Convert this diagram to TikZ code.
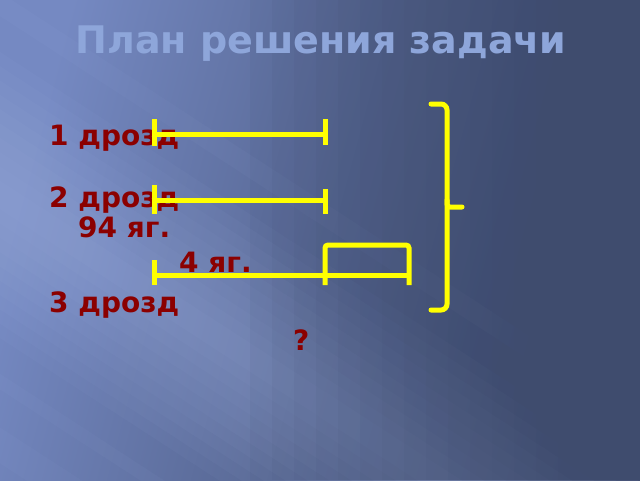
\documentclass[tikz,border=0pt]{standalone}
\usepackage{fontspec}
\setmainfont{DejaVu Sans}
\begin{document}
\begin{tikzpicture}[x=1pt,y=-1pt,
  lbl/.style={anchor=base west,inner sep=0pt,font=\fontsize{28}{32}\selectfont\bfseries,text=darkred},
  seg/.style={draw=yel,line width=5pt},
  brc/.style={draw=yel,line width=5pt,rounded corners=6pt,line cap=round},
  streak/.style={fill=bgL,opacity=0.04},
  darken/.style={fill=bgB,opacity=0.07}]
\definecolor{darkred}{HTML}{8B0000}
\definecolor{yel}{HTML}{FFFF00}
\definecolor{ttl}{HTML}{8EA6DA}
\definecolor{bgA}{HTML}{7589C2}
\definecolor{bgB}{HTML}{3F4C6E}
\definecolor{bgL}{HTML}{B4C6F6}
\useasboundingbox (0,0) rectangle (640,480);
% background
\shade[left color=bgA,right color=bgB,middle color=bgA!45!bgB,shading angle=75] (0,0) rectangle (640,480);
\begin{scope}
\clip (0,0) rectangle (640,480);
\begin{scope}[shift={(0,195)},rotate=-33]
\foreach \w in {12,24,...,120} {\fill[streak] (-200,-\w) rectangle (900,\w);}
\fill[streak] (-200,150) rectangle (900,163);
\fill[streak] (-200,195) rectangle (900,225);
\fill[streak] (-200,-150) rectangle (900,-170);
\end{scope}
\foreach \i in {0,...,14} {\fill[darken] ({250+\i*22},0) rectangle (640,480);}
\end{scope}
% title
\node[anchor=base,inner sep=0pt,font=\fontsize{38}{44}\selectfont\bfseries,text=ttl] (title) at (321,53) {План решения задачи};
% labels
\node[lbl] (d1) at (49,145) {1 дрозд};
\node[lbl] (d2) at (49,207) {2 дрозд};
\node[lbl] (w94) at (78,237) {94 яг.};
\node[lbl] (w4) at (179,272) {4 яг.};
\node[lbl] (d3) at (49,312) {3 дрозд};
\node[lbl] (q) at (293,350) {?};
% segment 1
\coordinate (a1) at (154,134); \coordinate (b1) at (325,134);
\draw[seg] (a1) -- (b1);
\draw[seg] ([shift={(0,-15)}]a1) -- ([shift={(0,12)}]a1);
\draw[seg] ([shift={(0,-15)}]b1) -- ([shift={(0,11)}]b1);
% segment 2
\coordinate (a2) at (154,200); \coordinate (b2) at (325,200);
\draw[seg] (a2) -- (b2);
\draw[seg] ([shift={(0,-15)}]a2) -- ([shift={(0,14)}]a2);
\draw[seg] ([shift={(0,-11)}]b2) -- ([shift={(0,14)}]b2);
% segment 3
\coordinate (a3) at (154,275); \coordinate (m3) at (325,275); \coordinate (b3) at (409,275);
\coordinate (mt) at (325,245); \coordinate (bt) at (409,245);
\draw[seg] (a3) -- (b3);
\draw[seg] ([shift={(0,-15)}]a3) -- ([shift={(0,10)}]a3);
\draw[seg,rounded corners=3pt] ([shift={(0,10)}]m3) -- (mt) -- (bt) -- ([shift={(0,10)}]b3);
% brace
\coordinate (bt1) at (431,104); \coordinate (bm) at (447,207); \coordinate (tip) at (462,207); \coordinate (bb1) at (431,310);
\draw[brc] (bt1) -- (447,104) -- (bm) -- (447,310) -- (bb1);
\draw[brc,rounded corners=3pt] (447,200) -- (bm) -- (tip);
\end{tikzpicture}
\end{document}
